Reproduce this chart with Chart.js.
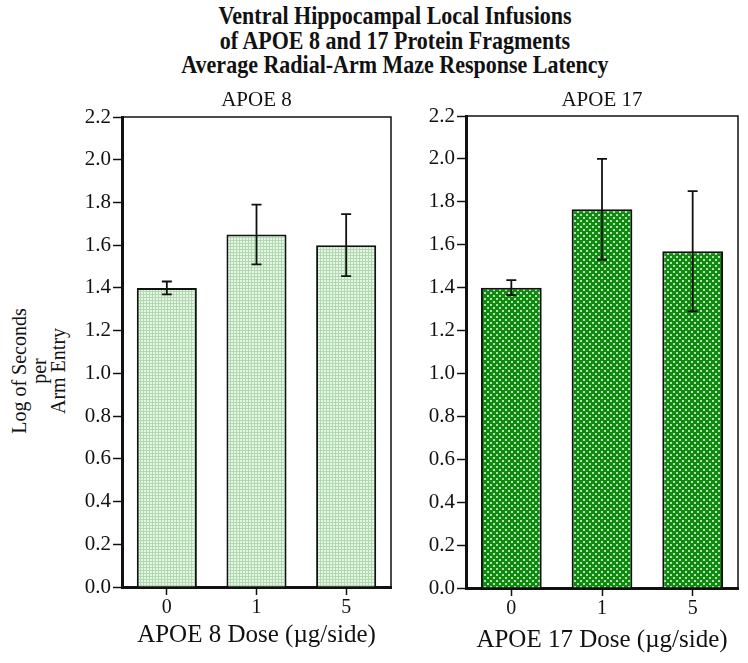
<!DOCTYPE html>
<html>
<head>
<meta charset="utf-8">
<script src="https://cdn.jsdelivr.net/npm/chart.js@4/dist/chart.umd.min.js"></script>
<style>
  body { margin: 0; background: #fff; width: 748px; height: 663px; position: relative; overflow: hidden;
         font-family: "Liberation Serif", "Times New Roman", serif; color: #111; }
  #title { position: absolute; left: 95px; width: 600px; top: 4px; text-align: center;
           font-weight: bold; font-size: 25px; line-height: 24.5px; transform: scaleX(0.88); }
  #ytitle { position: absolute; left: -60px; top: 341px; width: 200px; height: 60px;
            text-align: center; font-size: 20px; line-height: 19.5px; transform: rotate(-90deg); }
  .panel { position: absolute; top: 88px; height: 575px; }
</style>
</head>
<body>
<div id="title">Ventral Hippocampal Local Infusions<br>of APOE 8 and 17 Protein Fragments<br>Average Radial-Arm Maze Response Latency</div>
<div id="ytitle">Log of Seconds<br>per<br>Arm Entry</div>
<div class="panel" style="left:0;width:400px"><canvas id="apoe8"></canvas></div>
<div class="panel" style="left:400px;width:348px"><canvas id="apoe17"></canvas></div>
<script>
// values
const doses = ['0', '1', '5'];
const apoe8Means = [1.40, 1.65, 1.60];
const apoe8Errors = [0.03, 0.14, 0.145];
const apoe17Means = [1.40, 1.765, 1.57];
const apoe17Errors = [0.035, 0.235, 0.28];
const yTicks = [0, 0.2, 0.4, 0.6, 0.8, 1.0, 1.2, 1.4, 1.6, 1.8, 2.0, 2.2];

const SERIF = '"Liberation Serif", "Times New Roman", serif';
const INK = '#111';

// small repeating tile used as bar fill (screen-tone look)
function dotPattern(size, base, dot, dots) {
    const c = document.createElement('canvas');
    c.width = c.height = size;
    const g = c.getContext('2d');
    g.fillStyle = base;
    g.fillRect(0, 0, size, size);
    g.fillStyle = dot;
    dots.forEach(([x, y, s]) => g.fillRect(x, y, s, s));
    return g.createPattern(c, 'repeat');
}

// mean +/- error whiskers with caps
const errorBars = {
    id: 'errorBars',
    afterDatasetsDraw(chart) {
        const { ctx, scales: { y } } = chart;
        chart.data.datasets.forEach((ds, i) => {
            chart.getDatasetMeta(i).data.forEach((bar, j) => {
                const v = ds.data[j], e = ds.errors[j];
                const top = y.getPixelForValue(v + e);
                const bot = y.getPixelForValue(v - e);
                ctx.save();
                ctx.strokeStyle = INK;
                ctx.lineWidth = 1.8;
                ctx.beginPath();
                ctx.moveTo(bar.x, top); ctx.lineTo(bar.x, bot);
                ctx.moveTo(bar.x - 5, top); ctx.lineTo(bar.x + 5, top);
                ctx.moveTo(bar.x - 5, bot); ctx.lineTo(bar.x + 5, bot);
                ctx.stroke();
                ctx.restore();
            });
        });
    },
};

// thin top / right frame lines (left and bottom come from the axes)
const frame = {
    id: 'frame',
    afterDraw(chart) {
        const { ctx, chartArea: a } = chart;
        ctx.save();
        ctx.strokeStyle = INK;
        ctx.lineWidth = 1.5;
        ctx.beginPath();
        ctx.moveTo(a.left, a.top); ctx.lineTo(a.right, a.top); ctx.lineTo(a.right, a.bottom);
        ctx.stroke();
        ctx.restore();
    },
};

function makePanel(id, p) {
    new Chart(document.getElementById(id), {
        type: 'bar',
        data: {
            labels: doses,
            datasets: [{
                data: p.means,
                errors: p.errors,
                backgroundColor: p.fill,
                borderColor: INK,
                borderWidth: 2,
                barPercentage: 0.67,
                categoryPercentage: 1,
            }],
        },
        options: {
            responsive: true,
            maintainAspectRatio: false,
            animation: false,
            layout: { padding: { left: 0, right: p.padRight, top: 0, bottom: 0 } },
            plugins: {
                legend: { display: false },
                tooltip: { enabled: false },
                title: {
                    display: true,
                    text: p.subtitle,
                    fullSize: false,
                    color: INK,
                    font: { family: SERIF, size: 21, weight: 'normal', lineHeight: 1.2 },
                    padding: { top: 0, bottom: p.titleGap },
                },
            },
            scales: {
                x: {
                    afterFit: s => { s.height = p.xHeight; },
                    border: { display: true, color: INK, width: 3 },
                    grid: { offset: false, drawOnChartArea: false, drawTicks: true, tickLength: 8, tickWidth: 1.5, tickColor: INK },
                    ticks: { color: INK, padding: 1, font: { family: SERIF, size: 20 } },
                    title: {
                        display: true,
                        text: p.xTitle,
                        color: INK,
                        font: { family: SERIF, size: 25, lineHeight: 1.2 },
                        padding: { top: 0, bottom: p.xTitleGap },
                    },
                },
                y: {
                    min: 0,
                    max: 2.2,
                    afterFit: s => { s.width = p.yWidth; },
                    afterBuildTicks: s => { s.ticks = yTicks.map(v => ({ value: v })); },
                    border: { display: true, color: INK, width: 3 },
                    grid: { drawOnChartArea: false, drawTicks: true, tickLength: 9, tickWidth: 1.5, tickColor: INK },
                    ticks: { color: INK, padding: 2, font: { family: SERIF, size: 21 }, callback: v => Number(v).toFixed(1) },
                },
            },
        },
        plugins: [errorBars, frame],
    });
}

makePanel('apoe8', {
    means: apoe8Means,
    errors: apoe8Errors,
    subtitle: 'APOE 8',
    xTitle: 'APOE 8 Dose (\u00b5g/side)',
    fill: dotPattern(3, '#b0d9b0', '#e6f5e6', [[0, 0, 2]]),
    padRight: 9, yWidth: 122, xHeight: 76, titleGap: 3.8, xTitleGap: 13,
});

makePanel('apoe17', {
    means: apoe17Means,
    errors: apoe17Errors,
    subtitle: 'APOE 17',
    xTitle: 'APOE 17 Dose (\u00b5g/side)',
    fill: dotPattern(6, '#0f8a0f', '#b5dfb5', [[0, 0, 2], [3, 3, 2]]),
    padRight: 10, yWidth: 66, xHeight: 75, titleGap: 2.8, xTitleGap: 8,
});
</script>
</body>
</html>
